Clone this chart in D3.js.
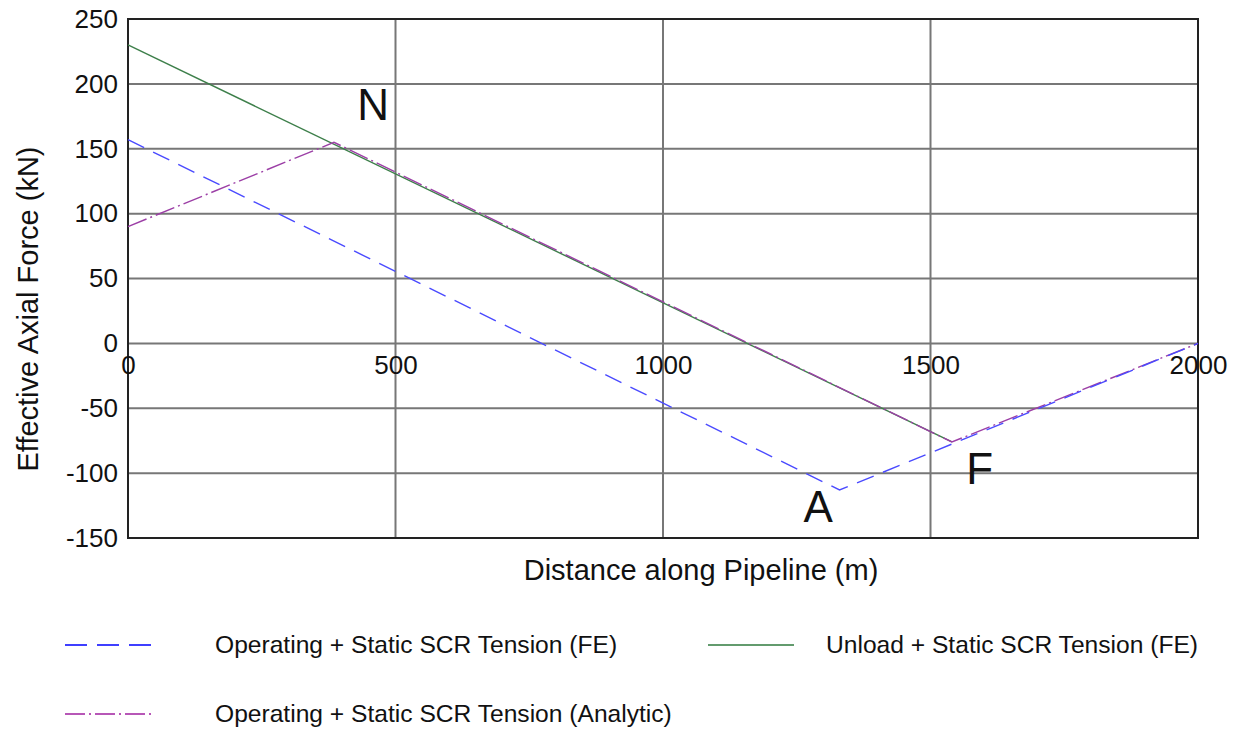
<!DOCTYPE html>
<html>
<head>
<meta charset="utf-8">
<script src="https://cdn.jsdelivr.net/npm/d3@7"></script>
<style>
  html, body { margin: 0; padding: 0; background: #fff; }
  svg { display: block; }
  text { font-family: "Liberation Sans", Arial, sans-serif; fill: #111; }
</style>
</head>
<body>
<svg id="chart" width="1243" height="729"></svg>
<script>
// Effective axial force along the pipeline, three load cases
const xTicks = [0, 500, 1000, 1500, 2000];
const yTicks = [-150, -100, -50, 0, 50, 100, 150, 200, 250];

// Operating + static SCR tension, finite element (blue dashed)
const operatingFE = [[0, 157], [1330, -113], [2000, 0]];
// Unload + static SCR tension, finite element (green solid)
const unloadFE = [[0, 230], [1540, -76]];
// Operating + static SCR tension, analytic (purple dash-dot)
const operatingAnalytic = [[0, 90], [385, 155], [1540, -76], [2000, 0]];

// Marked points on the force profile
const pointLabels = ["N", "A", "F"];
const pointAt = [[458, 172], [1290, -138], [1592, -108]];

const legendNames = [
  "Operating + Static SCR Tension (FE)",
  "Unload + Static SCR Tension (FE)",
  "Operating + Static SCR Tension (Analytic)"
];

const svg = d3.select("#chart");
const plotL = 128, plotR = 1198, plotT = 19, plotB = 538;

const x = d3.scaleLinear().domain([0, 2000]).range([plotL, plotR]);
const y = d3.scaleLinear().domain([-150, 250]).range([plotB, plotT]);

// grid
const grid = svg.append("g");
grid.selectAll("line.h").data(yTicks).join("line")
  .attr("class", "h")
  .attr("x1", plotL).attr("x2", plotR)
  .attr("y1", d => y(d)).attr("y2", d => y(d))
  .attr("stroke", "#777").attr("stroke-width", 2);
grid.selectAll("line.v").data(xTicks).join("line")
  .attr("class", "v")
  .attr("y1", plotT).attr("y2", plotB)
  .attr("x1", d => x(d)).attr("x2", d => x(d))
  .attr("stroke", "#777").attr("stroke-width", 2);

// frame
svg.append("rect")
  .attr("x", plotL).attr("y", plotT)
  .attr("width", plotR - plotL).attr("height", plotB - plotT)
  .attr("fill", "none").attr("stroke", "#222").attr("stroke-width", 2);

// plain integers with an ASCII minus
const fmt = d => String(d);

// y tick labels
const yAxis = d3.axisLeft(y).tickValues(yTicks).tickFormat(fmt).tickSize(0).tickPadding(10);
const gy = svg.append("g").attr("transform", `translate(${plotL},0)`).call(yAxis);
gy.select(".domain").remove();
gy.selectAll("text").style("font-size", "26px").attr("fill", "#111")
  .style("font-family", '"Liberation Sans", Arial, sans-serif');

// x tick labels sit just below the zero line
const xAxis = d3.axisBottom(x).tickValues(xTicks).tickFormat(fmt).tickSize(0).tickPadding(12);
const gx = svg.append("g").attr("transform", `translate(0,${y(0)})`).call(xAxis);
gx.select(".domain").remove();
gx.selectAll("text").style("font-size", "26px").attr("fill", "#111")
  .style("font-family", '"Liberation Sans", Arial, sans-serif');

// axis titles
svg.append("text")
  .attr("transform", `translate(38,309) rotate(-90)`)
  .attr("text-anchor", "middle")
  .style("font-size", "29px")
  .text("Effective Axial Force (kN)");
svg.append("text")
  .attr("x", 701).attr("y", 580)
  .attr("text-anchor", "middle")
  .style("font-size", "29px")
  .text("Distance along Pipeline (m)");

const line = d3.line().x(d => x(d[0])).y(d => y(d[1]));

const series = [
  { data: unloadFE, color: "#3d7f4a", dash: null, width: 1.4 },
  { data: operatingAnalytic, color: "#9c3fa6", dash: "20,4,2,4", width: 1.4 },
  { data: operatingFE, color: "#4a4aff", dash: "18,10", width: 1.4 }
];

svg.append("g").selectAll("path").data(series).join("path")
  .attr("d", d => line(d.data))
  .attr("fill", "none")
  .attr("stroke", d => d.color)
  .attr("stroke-width", d => d.width)
  .attr("stroke-dasharray", d => d.dash);

// point letters
svg.append("g").selectAll("text").data(pointLabels).join("text")
  .attr("x", (d, i) => x(pointAt[i][0]))
  .attr("y", (d, i) => y(pointAt[i][1]))
  .attr("text-anchor", "middle")
  .style("font-size", "44px")
  .text(d => d);

// legend
const legend = [
  { name: legendNames[0], color: "#0000ff", dash: "22,10", lx: 65, ly: 645, tx: 215 },
  { name: legendNames[1], color: "#2f7a3e", dash: null, lx: 708, ly: 645, tx: 826 },
  { name: legendNames[2], color: "#a020a0", dash: "20,4,2,4", lx: 65, ly: 714, tx: 215 }
];
const lg = svg.append("g");
legend.forEach(item => {
  lg.append("line")
    .attr("x1", item.lx).attr("x2", item.lx + 86)
    .attr("y1", item.ly).attr("y2", item.ly)
    .attr("stroke", item.color).attr("stroke-width", 1.6)
    .attr("stroke-dasharray", item.dash);
  lg.append("text")
    .attr("x", item.tx).attr("y", item.ly + 8)
    .style("font-size", "24.6px")
    .text(item.name);
});
</script>
</body>
</html>
